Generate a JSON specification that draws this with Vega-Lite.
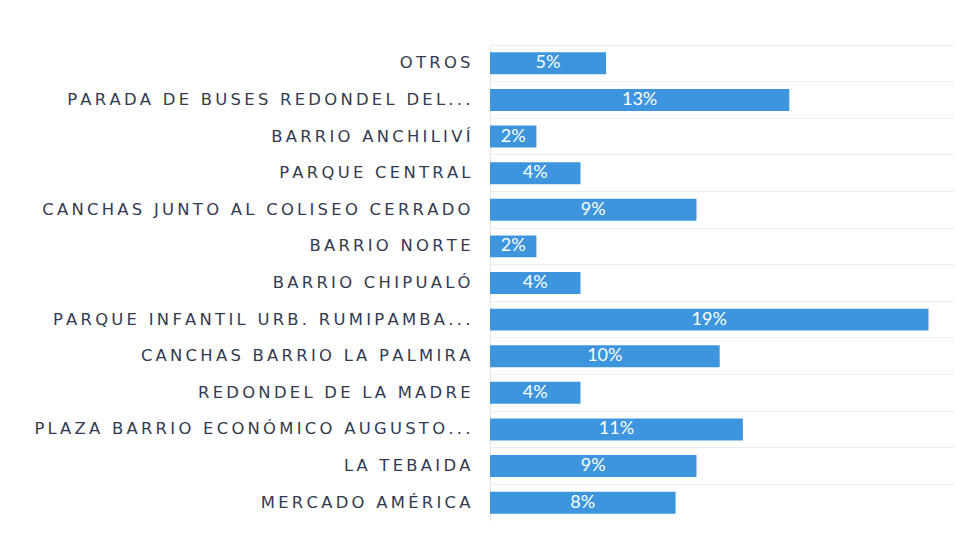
{
  "$schema": "https://vega.github.io/schema/vega-lite/v6.json",
  "autosize": "none",
  "width": 464,
  "height": 476,
  "padding": {"left": 490, "top": 45, "right": 15, "bottom": 24},
  "background": "white",
  "config": {"view": {"stroke": null}},
  "data": {
    "values": [
      {"lugar": "OTROS", "valor": 0.050},
      {"lugar": "PARADA DE BUSES REDONDEL DEL...", "valor": 0.129},
      {"lugar": "BARRIO ANCHILIVÍ", "valor": 0.020},
      {"lugar": "PARQUE CENTRAL", "valor": 0.039},
      {"lugar": "CANCHAS JUNTO AL COLISEO CERRADO", "valor": 0.089},
      {"lugar": "BARRIO NORTE", "valor": 0.020},
      {"lugar": "BARRIO CHIPUALÓ", "valor": 0.039},
      {"lugar": "PARQUE INFANTIL URB. RUMIPAMBA...", "valor": 0.189},
      {"lugar": "CANCHAS BARRIO LA PALMIRA", "valor": 0.099},
      {"lugar": "REDONDEL DE LA MADRE", "valor": 0.039},
      {"lugar": "PLAZA BARRIO ECONÓMICO AUGUSTO...", "valor": 0.109},
      {"lugar": "LA TEBAIDA", "valor": 0.089},
      {"lugar": "MERCADO AMÉRICA", "valor": 0.080}
    ]
  },
  "encoding": {
    "y": {
      "field": "lugar",
      "type": "nominal",
      "sort": null,
      "scale": {"paddingInner": 0.4, "paddingOuter": 0.2},
      "axis": {
        "title": null,
        "ticks": false,
        "domain": true,
        "domainColor": "#e6e6e6",
        "labelFont": "DejaVu Sans",
        "labelFontSize": 16.4,
        "labelColor": "#333a4f",
        "labelPadding": 20,
        "labelLimit": 480,
        "labelExpr": "join(split(datum.label, ''), '\u2009')",
        "grid": true,
        "gridColor": "#ededed",
        "bandPosition": -0.333
      }
    }
  },
  "layer": [
    {
      "mark": {"type": "bar", "color": "#3d95de"},
      "encoding": {
        "x": {"field": "valor", "type": "quantitative", "scale": {"domain": [0, 0.2]}, "axis": null}
      }
    },
    {
      "transform": [{"calculate": "datum.valor / 2", "as": "centro"}],
      "mark": {"type": "text", "color": "white", "font": "Lato", "fontSize": 18, "baseline": "middle", "align": "center"},
      "encoding": {
        "x": {"field": "centro", "type": "quantitative", "scale": {"domain": [0, 0.2]}, "axis": null},
        "text": {"field": "valor", "format": ".0%"}
      }
    }
  ]
}
